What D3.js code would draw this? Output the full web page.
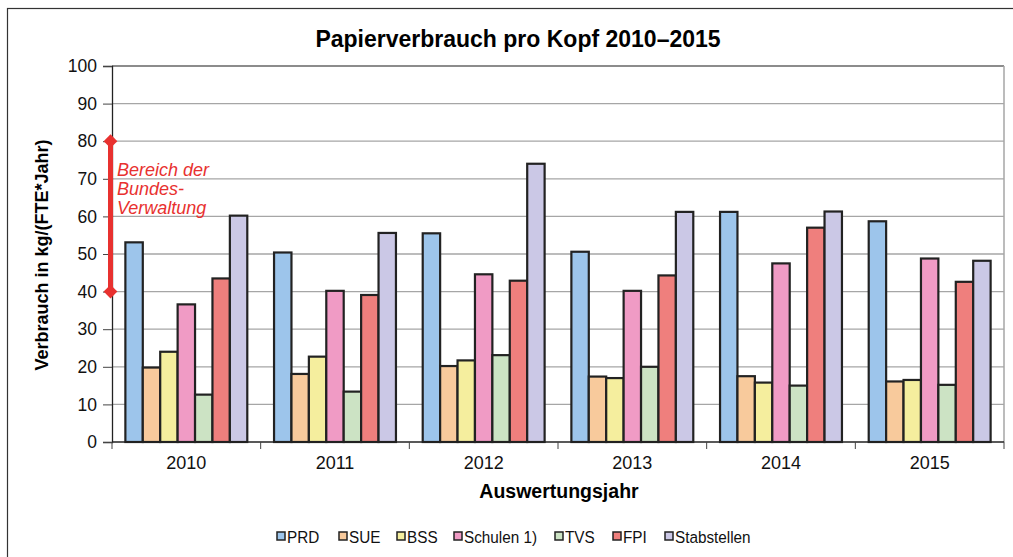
<!DOCTYPE html>
<html>
<head>
<meta charset="utf-8">
<script src="https://cdn.jsdelivr.net/npm/d3@7/dist/d3.min.js"></script>
<style>
  body { margin: 0; background: #fff; }
  text { font-family: "Liberation Sans", Arial, sans-serif; }
</style>
</head>
<body>
<div class="chart"></div>
<script>
let W = 1013;
let H = 557;

let years = ['2010', '2011', '2012', '2013', '2014', '2015'];
let groups = ['PRD', 'SUE', 'BSS', 'Schulen 1)', 'TVS', 'FPI', 'Stabstellen'];
let groupColors = ['#9dc5eb', '#f8ca9c', '#f5ee9e', '#f09bc5', '#cce3c4', '#ef7f7d', '#cbc8e6'];

// values per group, one entry per year
let prd = [53.1, 50.4, 55.5, 50.6, 61.2, 58.7];
let sue = [19.8, 18.1, 20.2, 17.4, 17.5, 16.1];
let bss = [24.0, 22.7, 21.7, 17.0, 15.8, 16.5];
let schulen = [36.6, 40.2, 44.6, 40.2, 47.5, 48.8];
let tvs = [12.6, 13.4, 23.1, 20.0, 15.0, 15.2];
let fpi = [43.5, 39.1, 42.9, 44.3, 57.0, 42.6];
let stab = [60.2, 55.6, 74.0, 61.2, 61.3, 48.2];
let seriesValues = [prd, sue, bss, schulen, tvs, fpi, stab];

let yTicks = [0, 10, 20, 30, 40, 50, 60, 70, 80, 90, 100];
let bundRange = [40, 80];
let bundLines = ['Bereich der', 'Bundes-', 'Verwaltung'];

let margin = {left: 112, right: 9, top: 66, bottom: 115};
let plotW = W - margin.left - margin.right;
let plotH = H - margin.top - margin.bottom;

let svg = d3.select('.chart')
  .append('svg')
  .attr('width', W)
  .attr('height', H);

// outer frame
svg.append('rect')
  .attr('x', 7.5).attr('y', 8.5)
  .attr('width', W + 20).attr('height', H + 20)
  .attr('fill', 'none')
  .attr('stroke', '#333')
  .attr('stroke-width', 1.2);

let g = svg.append('g')
  .attr('transform', 'translate(' + margin.left + ',' + margin.top + ')');

let x0 = d3.scaleBand()
  .domain(years)
  .range([0, plotW])
  .paddingInner(0.18)
  .paddingOuter(0.09);

let x1 = d3.scaleBand()
  .domain(groups)
  .range([0, x0.bandwidth()]);

let y = d3.scaleLinear()
  .domain([0, 100])
  .range([plotH, 0]);

// gridlines
g.append('g')
  .selectAll('line')
  .data(yTicks.slice(1))
  .enter()
  .append('line')
    .attr('x1', 0)
    .attr('x2', plotW)
    .attr('y1', function(d) { return y(d); })
    .attr('y2', function(d) { return y(d); })
    .attr('stroke', function(d) { return d == 100 ? '#8c8c8c' : '#a6a6a6'; })
    .attr('stroke-width', function(d) { return d == 100 ? 2 : 1.3; });

// right border of plot area
g.append('line')
  .attr('x1', plotW).attr('x2', plotW)
  .attr('y1', 0).attr('y2', plotH)
  .attr('stroke', '#a6a6a6')
  .attr('stroke-width', 1.5);

// bars
let flat = [];
years.forEach(function(yr, i) {
  groups.forEach(function(grp, j) {
    flat.push({year: yr, group: grp, value: seriesValues[j][i], color: groupColors[j]});
  });
});

g.append('g')
  .selectAll('rect')
  .data(flat)
  .enter()
  .append('rect')
    .attr('x', function(d) { return x0(d.year) + x1(d.group); })
    .attr('y', function(d) { return y(d.value); })
    .attr('width', x1.bandwidth())
    .attr('height', function(d) { return plotH - y(d.value); })
    .attr('fill', function(d) { return d.color; })
    .attr('stroke', '#222')
    .attr('stroke-width', 2.2);

// y axis
let yAxis = d3.axisLeft(y).tickValues(yTicks).tickSize(9).tickPadding(6);
let yAxisGroup = g.append('g').attr('class', 'axis axis--y').call(yAxis);
yAxisGroup.select('.domain').attr('stroke', '#222').attr('stroke-width', 1.3);
yAxisGroup.selectAll('.tick line').attr('stroke', '#444');
yAxisGroup.selectAll('.tick text')
  .attr('font-size', '17.5px')
  .attr('fill', '#111')
  .attr('font-family', '"Liberation Sans", Arial, sans-serif');

// x axis with ticks between categories
let xAxisGroup = g.append('g')
  .attr('transform', 'translate(0,' + plotH + ')');
xAxisGroup.append('line')
  .attr('x1', 0).attr('x2', plotW)
  .attr('stroke', '#222').attr('stroke-width', 1.3);
let boundaries = years.map(function(d) { return x0(d) - x0.step() * x0.paddingInner() / 2; });
boundaries.push(plotW);
xAxisGroup.selectAll('.bt')
  .data(boundaries)
  .enter()
  .append('line')
    .attr('x1', function(d) { return d; })
    .attr('x2', function(d) { return d; })
    .attr('y1', 0).attr('y2', 7)
    .attr('stroke', '#444');
xAxisGroup.selectAll('.yl')
  .data(years)
  .enter()
  .append('text')
    .attr('x', function(d) { return x0(d) + x0.bandwidth() / 2; })
    .attr('y', 27)
    .attr('text-anchor', 'middle')
    .attr('font-size', '18px')
    .attr('fill', '#111')
    .text(function(d) { return d; });

// titles
svg.append('text')
  .attr('x', 518).attr('y', 47)
  .attr('text-anchor', 'middle')
  .attr('font-size', '23px')
  .attr('font-weight', 'bold')
  .text('Papierverbrauch pro Kopf 2010–2015');

svg.append('text')
  .attr('x', 559).attr('y', 498)
  .attr('text-anchor', 'middle')
  .attr('font-size', '19.5px')
  .attr('font-weight', 'bold')
  .text('Auswertungsjahr');

svg.append('text')
  .attr('transform', 'translate(47.5,' + 255 + ') rotate(-90)')
  .attr('text-anchor', 'middle')
  .attr('font-size', '18px')
  .attr('font-weight', 'bold')
  .text('Verbrauch in kg/(FTE*Jahr)');

// range of federal administration
let red = '#e8312f';
g.append('line')
  .attr('x1', -1.5).attr('x2', -1.5)
  .attr('y1', y(bundRange[0])).attr('y2', y(bundRange[1]))
  .attr('stroke', red)
  .attr('stroke-width', 5);
g.selectAll('.dia')
  .data(bundRange)
  .enter()
  .append('path')
    .attr('d', d3.symbol().type(d3.symbolDiamond2).size(120))
    .attr('transform', function(d) { return 'translate(-1.5,' + y(d) + ')'; })
    .attr('fill', red);
g.selectAll('.bt2')
  .data(bundLines)
  .enter()
  .append('text')
    .attr('x', 5)
    .attr('y', function(d, i) { return 176 - margin.top + i * 19; })
    .attr('font-size', '18px')
    .attr('font-style', 'italic')
    .attr('fill', red)
    .text(function(d) { return d; });

// legend
let legendX = [277, 339, 397, 454, 555, 613, 665];
let legend = svg.append('g');
let items = legend.selectAll('g')
  .data(groups)
  .enter()
  .append('g')
    .attr('transform', function(d, i) { return 'translate(' + legendX[i] + ',532)'; });
items.append('rect')
  .attr('width', 8).attr('height', 8)
  .attr('fill', function(d, i) { return groupColors[i]; })
  .attr('stroke', '#222')
  .attr('stroke-width', 1.5);
items.append('text')
  .attr('transform', 'translate(10,10.5) scale(0.9,1)')
  .attr('font-size', '17px')
  .attr('fill', '#111')
  .text(function(d) { return d; });
</script>
</body>
</html>
